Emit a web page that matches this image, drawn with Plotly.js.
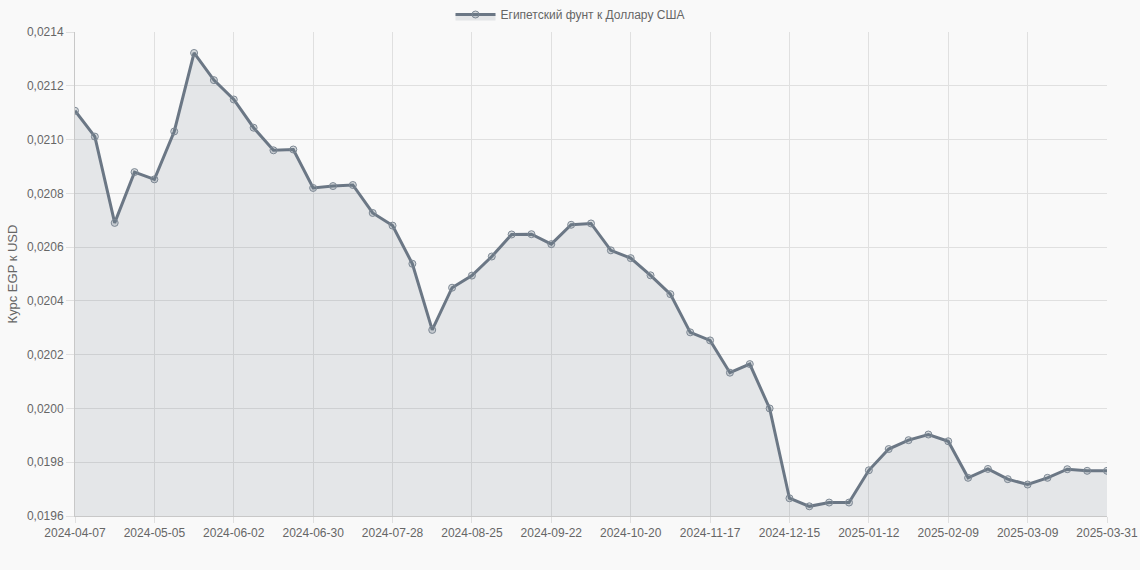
<!DOCTYPE html>
<html>
<head>
<meta charset="utf-8">
<script src="https://cdn.plot.ly/plotly-3.0.1.min.js"></script>
<style>
  html, body { margin: 0; padding: 0; background: #f9f9f9; }
  #chart { width: 1140px; height: 570px; }
</style>
</head>
<body>
<div id="chart"></div>
<script>
// weekly EGP -> USD rate
var dates = [
  '2024-04-07','2024-04-14','2024-04-21','2024-04-28','2024-05-05','2024-05-12','2024-05-19','2024-05-26',
  '2024-06-02','2024-06-09','2024-06-16','2024-06-23','2024-06-30','2024-07-07','2024-07-14','2024-07-21',
  '2024-07-28','2024-08-04','2024-08-11','2024-08-18','2024-08-25','2024-09-01','2024-09-08','2024-09-15',
  '2024-09-22','2024-09-29','2024-10-06','2024-10-13','2024-10-20','2024-10-27','2024-11-03','2024-11-10',
  '2024-11-17','2024-11-24','2024-12-01','2024-12-08','2024-12-15','2024-12-22','2024-12-29','2025-01-05',
  '2025-01-12','2025-01-19','2025-01-26','2025-02-02','2025-02-09','2025-02-16','2025-02-23','2025-03-02',
  '2025-03-09','2025-03-16','2025-03-23','2025-03-30','2025-03-31'
];
var rates = [
  0.021107, 0.021011, 0.020690, 0.020879, 0.020852, 0.021030, 0.021322, 0.021221, 0.021149, 0.021044,
  0.020960, 0.020963, 0.020820, 0.020827, 0.020831, 0.020727, 0.020680, 0.020538, 0.020292, 0.020449,
  0.020494, 0.020565, 0.020647, 0.020648, 0.020611, 0.020683, 0.020688, 0.020588, 0.020559, 0.020495,
  0.020425, 0.020283, 0.020253, 0.020133, 0.020165, 0.020000, 0.019666, 0.019636, 0.019650, 0.019650,
  0.019770, 0.019849, 0.019882, 0.019903, 0.019878, 0.019742, 0.019775, 0.019737, 0.019717, 0.019742,
  0.019774, 0.019768, 0.019768
];
var seriesName = 'Египетский фунт к Доллару США';
var yTitle = 'Курс EGP к USD';

// every 4th week gets a label, plus the last one
var tickDates = dates.filter(function(d, i){ return i % 4 == 0 || i == dates.length - 1; });

var lineColor = '#6b7785';
var gridColor = '#e0e0e0';

var data = [{
  x: dates,
  y: rates,
  type: 'scatter',
  mode: 'lines+markers',
  name: seriesName,
  fill: 'tozeroy',
  fillcolor: 'rgba(108,122,137,0.15)',
  line: {color: lineColor, width: 3},
  marker: {size: 7, color: 'rgba(108,122,137,0.25)', line: {color: '#7d8894', width: 1}}
}];

var layout = {
  width: 1140,
  height: 570,
  paper_bgcolor: '#f9f9f9',
  plot_bgcolor: '#f9f9f9',
  separators: ', ',
  font: {family: '"Liberation Sans", Arial, sans-serif', size: 12, color: '#666'},
  margin: {l: 75, r: 33, t: 32, b: 54},
  showlegend: true,
  legend: {
    orientation: 'h',
    xref: 'container', yref: 'container',
    x: 0.5, xanchor: 'center', y: 1, yanchor: 'top',
    itemwidth: 40, font: {size: 12, color: '#666'}, bgcolor: 'rgba(0,0,0,0)'
  },
  xaxis: {
    type: 'category',
    range: [0, dates.length - 1],
    tickmode: 'array',
    tickvals: tickDates,
    ticktext: tickDates,
    tickangle: 0,
    showgrid: true,
    gridcolor: gridColor,
    ticks: 'outside',
    ticklen: 6,
    tickcolor: gridColor,
    showline: true,
    linecolor: '#c8c8c8',
    zeroline: false,
    tickfont: {size: 12, color: '#666'}
  },
  yaxis: {
    range: [0.0196, 0.0214],
    dtick: 0.0002,
    tick0: 0.0196,
    tickformat: '.4f',
    showgrid: true,
    gridcolor: gridColor,
    ticks: 'outside',
    ticklen: 8,
    tickcolor: gridColor,
    showline: true,
    linecolor: '#c8c8c8',
    zeroline: false,
    tickfont: {size: 12, color: '#666'},
    title: {text: yTitle, font: {size: 13, color: '#666'}, standoff: 6}
  }
};

Plotly.newPlot('chart', data, layout, {displayModeBar: false, staticPlot: true});
</script>
</body>
</html>
